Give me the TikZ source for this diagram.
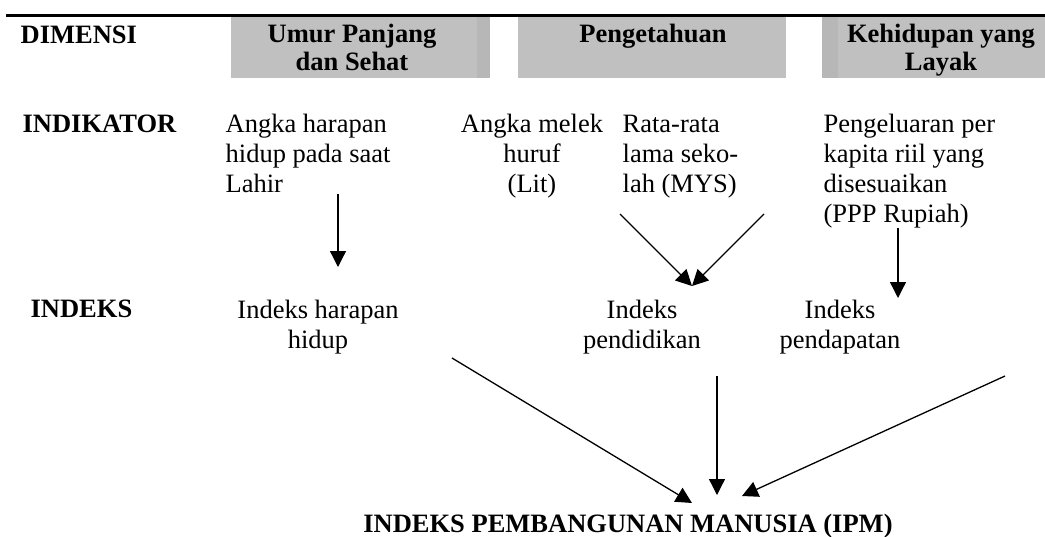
\documentclass[tikz,border=0pt]{standalone}
\usepackage{fontspec}
\setmainfont{Liberation Serif}
\usetikzlibrary{arrows.meta}
\definecolor{boxgray}{RGB}{192,192,192}
\definecolor{stripgray}{RGB}{183,183,183}

\begin{document}
\begin{tikzpicture} [x=1pt, y=-1pt, line width=1.3pt, >={Triangle[length=16pt, width=16pt]},
  every node/.style={inner sep=0pt, font=\fontsize{26.5}{30}\selectfont},
  hd/.style={font=\fontsize{26.5}{28}\selectfont\bfseries, anchor=base west},
  txt/.style={align=left, anchor=base west},
  ctr/.style={align=center, anchor=base},
  dimbox/.style={fill=boxgray, minimum height=61pt}]
\useasboundingbox (0,0) rectangle (1045,536);
\draw [line width=3pt] (6,15) -- (1045,15);
\node (b1) [dimbox, minimum width=246pt] at (354,47.5) {};
\node (b1s) [fill=stripgray, minimum width=13pt, minimum height=61pt] at (483.5,47.5) {};
\node (b2) [dimbox, minimum width=268pt] at (652,47.5) {};
\node (b3s) [fill=stripgray, minimum width=16pt, minimum height=61pt] at (830,47.5) {};
\node (b3) [dimbox, minimum width=207pt] at (941.5,47.5) {};
\node (dim) [hd] at (20,43) {DIMENSI};
\node (ind) [hd] at (22,132) {INDIKATOR};
\node (idx) [hd] at (30,317) {INDEKS};
\node (d1) [hd, ctr] at (352,70) {Umur Panjang\\dan Sehat};
\node (d2) [hd, ctr] at (653,42) {Pengetahuan};
\node (d3) [hd, ctr] at (941,70) {Kehidupan yang\\Layak};
\node (ahh) [txt] at (225,192) {Angka harapan\\hidup pada saat\\Lahir};
\node (lit) [ctr] at (532,192) {Angka melek\\huruf\\(Lit)};
\node (mys) [txt] at (622,192) {Rata-rata\\lama seko-\\lah (MYS)};
\node (ppp) [txt] at (823,222) {Pengeluaran per\\kapita riil yang\\disesuaikan\\(PPP Rupiah)};
\node (ih) [ctr] at (318,348) {Indeks harapan\\hidup};
\node (ip) [ctr] at (642,348) {Indeks\\pendidikan};
\node (id) [ctr] at (840,348) {Indeks\\pendapatan};
\node (ipm) [hd, anchor=base] at (628,532) {INDEKS PEMBANGUNAN MANUSIA (IPM)};
\draw [->] ([xshift=113pt, yshift=-2pt]ahh.base west) -- ([xshift=20pt, yshift=81pt]ih.base);
\draw [->] ([xshift=88pt, yshift=-22pt]lit.base) -- ([xshift=50pt, yshift=62pt]ip.base);
\draw [->] ([xshift=142pt, yshift=-22pt]mys.base west) -- ([xshift=50pt, yshift=62pt]ip.base);
\draw [->] ([xshift=75pt, yshift=-6pt]ppp.base west) -- ([xshift=58pt, yshift=50pt]id.base);
\draw [->] ([xshift=134pt, yshift=-10pt]ih.base) -- ([xshift=64pt, yshift=29pt]ipm.base);
\draw [->] ([xshift=75pt, yshift=-28pt]ip.base) -- ([xshift=89pt, yshift=37pt]ipm.base);
\draw [->] ([xshift=165pt, yshift=-28pt]id.base) -- ([xshift=114pt, yshift=36pt]ipm.base);
\end{tikzpicture}
\end{document}
